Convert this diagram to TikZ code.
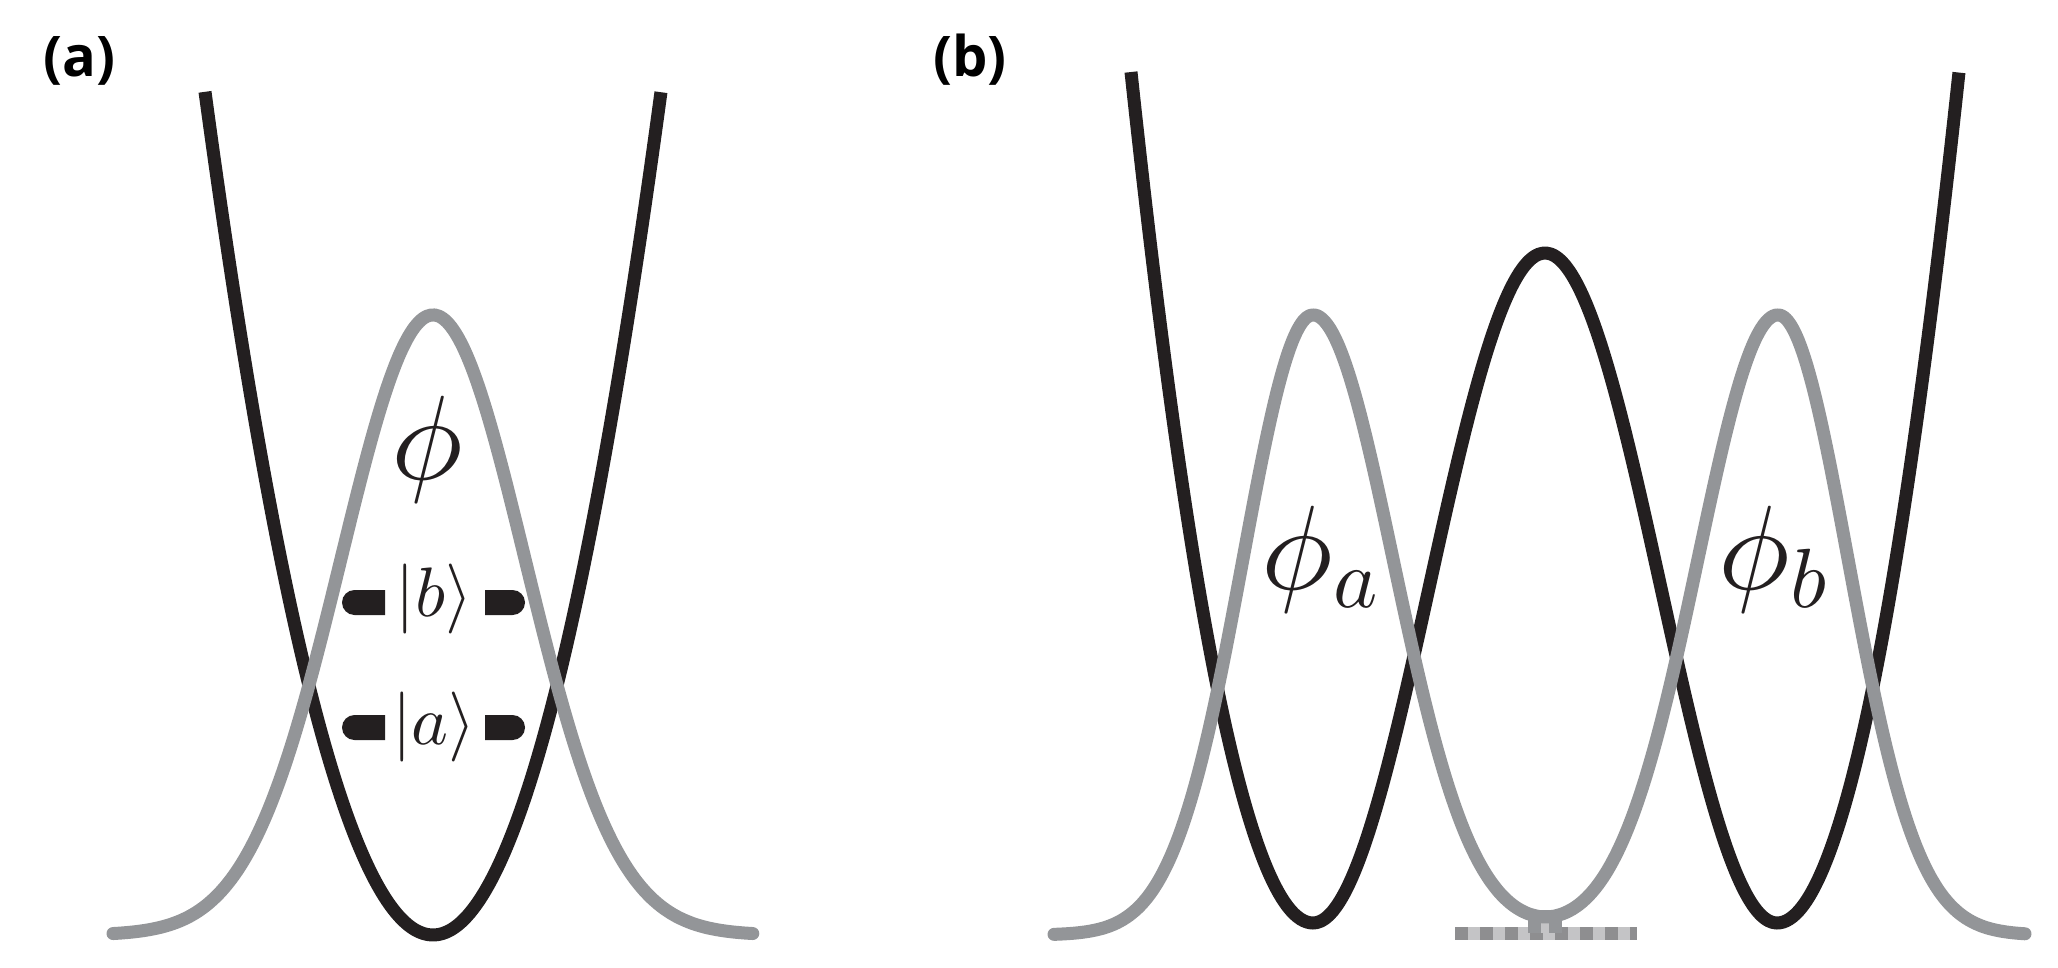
\documentclass[tikz,border=0pt]{standalone}
\usepackage{fontspec}
\DeclareFontFamily{OML}{cmm}{\skewchar\font'177}
\DeclareFontShape{OML}{cmm}{m}{it}{<-> cmmi10}{}
\DeclareFontFamily{OMS}{cmsy}{\skewchar\font'60}
\DeclareFontShape{OMS}{cmsy}{m}{n}{<-> cmsy10}{}
\DeclareFontFamily{OMX}{cmex}{}
\DeclareFontShape{OMX}{cmex}{m}{n}{<-> cmex10}{}
\newfontfamily\labfont{Open Sans}
\definecolor{potblack}{HTML}{231F20}
\definecolor{wavegrey}{HTML}{939598}
\definecolor{dashdark}{HTML}{8E8E90}
\definecolor{dashlight}{HTML}{C4C4C6}
\tikzset{
  potential/.style={draw=potblack, line width=13pt, line join=round},
  wave/.style={draw=wavegrey, line width=13pt, line cap=round, line join=round},
  bigmath/.style={inner sep=0pt, anchor=base, text=potblack, font=\fontsize{120}{140}\selectfont},
  ketmath/.style={inner sep=0pt, anchor=base, text=potblack, font=\fontsize{70}{84}\selectfont},
  panellabel/.style={inner sep=0pt, anchor=base west, text=black, font=\labfont\bfseries\fontsize{56}{64}\selectfont},
  levelbar/.style={fill=potblack},
}
\begin{document}
\begin{tikzpicture}[x=1pt, y=-1pt]
\useasboundingbox (0,0) rectangle (2058,968);

% ---------- panel (a) ----------
\node[panellabel] (laba) at (43,77) {(a)};
\draw[potential] plot[domain=-2.28:2.28, samples=120, smooth] ({433+100*\x},{935-162.2*\x*\x});
\draw[wave] plot[domain=-3.2:3.2, samples=160, smooth] ({433+100*\x},{935-620*exp(-0.5*(\x/0.92)*(\x/0.92))});
\node[bigmath] (phi) at (427,479) {$\phi$};
\node[ketmath] (ketb) at (434,616) {$|b\rangle$};
\node[ketmath] (keta) at (434,744) {$|a\rangle$};
% level bars
\fill[levelbar] (385,590) -- (354.5,590) arc[start angle=90, end angle=270, radius=12.5pt] -- (385,615) -- cycle;
\fill[levelbar] (485,590) -- (512.5,590) arc[start angle=90, end angle=-90, radius=12.5pt] -- (485,615) -- cycle;
\fill[levelbar] (385,715) -- (354.5,715) arc[start angle=90, end angle=270, radius=12.5pt] -- (385,740) -- cycle;
\fill[levelbar] (485,715) -- (512.5,715) arc[start angle=90, end angle=-90, radius=12.5pt] -- (485,740) -- cycle;

% ---------- panel (b) ----------
\node[panellabel] (labb) at (933,77) {(b)};
\draw[potential] plot[domain=1.82:0, samples=60, smooth] ({1313-100*\x},{923-256.9*\x*\x})
  -- plot[domain=0:1, samples=120, smooth] ({1313+464*\x},{923-335*(1-cos(360*\x))})
  -- plot[domain=0:1.82, samples=60, smooth] ({1777+100*\x},{923-256.9*\x*\x});
% patch at the bottom middle
\draw[dashlight, line width=13pt] (1455,933.5) -- (1637,933.5);
\draw[dashdark, line width=13pt, dash pattern=on 13pt off 12pt] (1455,933.5) -- (1637,933.5);
\fill[wavegrey] (1528,910) rectangle (1562,933);
\fill[dashlight] (1541,918) rectangle (1549,933);
\draw[wave] plot[domain=-2.59:0, samples=80, smooth] ({1313+100*\x},{935-620*exp(-0.5*(\x/0.7)*(\x/0.7))})
  -- plot[domain=0:4.65, samples=200, smooth] ({1313+100*\x},{935-620*exp(-0.5*(\x/0.8)*(\x/0.8))-620*exp(-0.5*((4.65-\x)/0.8)*((4.65-\x)/0.8))})
  -- plot[domain=0:2.47, samples=80, smooth] ({1778+100*\x},{935-620*exp(-0.5*(\x/0.7)*(\x/0.7))});
\node[bigmath] (phia) at (1320,589) {$\phi_a$};
\node[bigmath] (phib) at (1773,589) {$\phi_b$};
\end{tikzpicture}
\end{document}
